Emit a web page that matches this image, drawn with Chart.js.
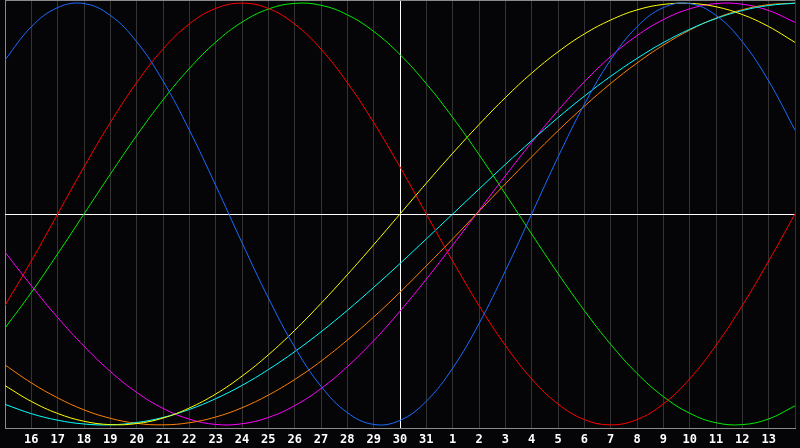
<!DOCTYPE html>
<html>
<head>
<meta charset="utf-8">
<script src="https://cdn.jsdelivr.net/npm/chart.js@4/dist/chart.umd.min.js"></script>
<style>
html,body{margin:0;padding:0;background:#050508;}
#wrap{width:800px;height:448px;}
canvas{display:block;background:#050508;}
</style>
</head>
<body>
<div id="wrap"><canvas id="c" width="800" height="448"></canvas></div>
<script>
// Day labels at grid positions 1..29 (position 0 = day 15, position 30 = day 14)
const dayLabels = [16,17,18,19,20,21,22,23,24,25,26,27,28,29,30,31,1,2,3,4,5,6,7,8,9,10,11,12,13];
const todayIndex = 15;

// Series values (percent) at positions 0..30
const physical = [73.1,88.8,97.9,99.8,94.2,81.7,63.1,39.8,13.6,-13.6,-39.8,-63.1,-81.7,-94.2,-99.8,-97.9,-88.8,-73.1,-52.0,-27.0,0,27.0,52.0,73.1,88.8,97.9,99.8,94.2,81.7,63.1,39.8];
const emotional = [-43.4,-22.3,0,22.3,43.4,62.3,78.2,90.1,97.5,100,97.5,90.1,78.2,62.3,43.4,22.3,0,-22.3,-43.4,-62.3,-78.2,-90.1,-97.5,-100,-97.5,-90.1,-78.2,-62.3,-43.4,-22.3,0];
const intellectual = [-54.1,-37.2,-18.9,0,18.9,37.2,54.1,69.0,81.5,91.0,97.2,99.9,99.0,94.5,86.6,75.6,61.8,45.8,28.2,9.5,-9.5,-28.2,-45.8,-61.8,-75.6,-86.6,-94.5,-99.0,-99.9,-97.2,-91.0];
const aesthetic = [-81.4,-88.9,-94.6,-98.3,-99.9,-99.4,-96.8,-92.0,-85.4,-76.9,-66.8,-55.2,-42.4,-28.8,-14.6,0,14.6,28.8,42.4,55.2,66.8,76.9,85.4,92.0,96.8,99.4,99.9,98.3,94.6,88.9,81.4];
const spiritual = [-90.3,-94.7,-97.8,-99.6,-100.0,-98.9,-96.5,-92.7,-87.6,-81.3,-73.8,-65.3,-55.9,-45.7,-34.8,-23.5,-11.8,0,11.8,23.5,34.8,45.7,55.9,65.3,73.8,81.3,87.6,92.7,96.5,98.9,100.0];
const awareness = [-71.6,-80.1,-87.2,-92.9,-96.9,-99.3,-100.0,-99.0,-96.3,-91.9,-85.9,-78.5,-69.8,-59.8,-48.9,-37.1,-24.6,-11.8,1.3,14.3,27.1,39.5,51.1,61.9,71.6,80.1,87.2,92.9,96.9,99.3,100.0];
const intuitive = [-18.1,-34.0,-49.1,-62.7,-74.7,-84.6,-92.2,-97.3,-99.8,-99.5,-96.5,-90.9,-82.8,-72.4,-60.1,-46.1,-30.9,-14.8,1.7,18.1,34.0,49.1,62.7,74.7,84.6,92.2,97.3,99.8,99.5,96.5,90.9];

const seriesList = [
  {name:'Physical', data:physical, color:'#1a6cff'},
  {name:'Emotional', data:emotional, color:'#ff0000'},
  {name:'Intellectual', data:intellectual, color:'#00ee00'},
  {name:'Aesthetic', data:aesthetic, color:'#ffff00'},
  {name:'Spiritual', data:spiritual, color:'#00ffff'},
  {name:'Awareness', data:awareness, color:'#ff7f00'},
  {name:'Intuitive', data:intuitive, color:'#ff00ff'}
];

const YMAX = 101.5;

new Chart(document.getElementById('c'), {
  type: 'line',
  data: {
    datasets: seriesList.map(s => ({
      label: s.name,
      data: s.data.map((v,i) => ({x:i, y:v})),
      borderColor: s.color,
      borderWidth: 1,
      pointRadius: 0,
      tension: 0.4,
      fill: false
    }))
  },
  options: {
    responsive: false,
    animation: false,
    layout: {padding: 0},
    plugins: {legend: {display:false}, tooltip: {enabled:false}},
    scales: {
      x: {
        type: 'linear',
        min: 0, max: 30,
        afterFit: s => { s.height = 20; },
        ticks: {
          stepSize: 1, autoSkip: false, maxRotation: 0, padding: 5,
          color: '#ffffff',
          font: {family: 'DejaVu Sans Mono', size: 12, weight: 'bold'},
          callback: v => (v >= 1 && v <= 29) ? String(dayLabels[v-1]) : ''
        },
        grid: {
          drawTicks: false,
          lineWidth: 1,
          color: ctx => ctx.tick && ctx.tick.value === todayIndex ? '#ffffff' : (ctx.tick && ctx.tick.value === 0 ? '#8a8a8a' : '#333333')
        },
        border: {display: true, color: '#8a8a8a'}
      },
      y: {
        min: -YMAX, max: YMAX,
        afterFit: s => { s.width = 0; },
        afterBuildTicks: s => { s.ticks = [{value:-YMAX},{value:0},{value:YMAX}]; },
        ticks: {display: false},
        grid: {
          drawTicks: false,
          color: ctx => ctx.tick && ctx.tick.value === 0 ? '#ffffff' : '#8a8a8a'
        },
        border: {display: false}
      }
    }
  }
});
</script>
</body>
</html>
